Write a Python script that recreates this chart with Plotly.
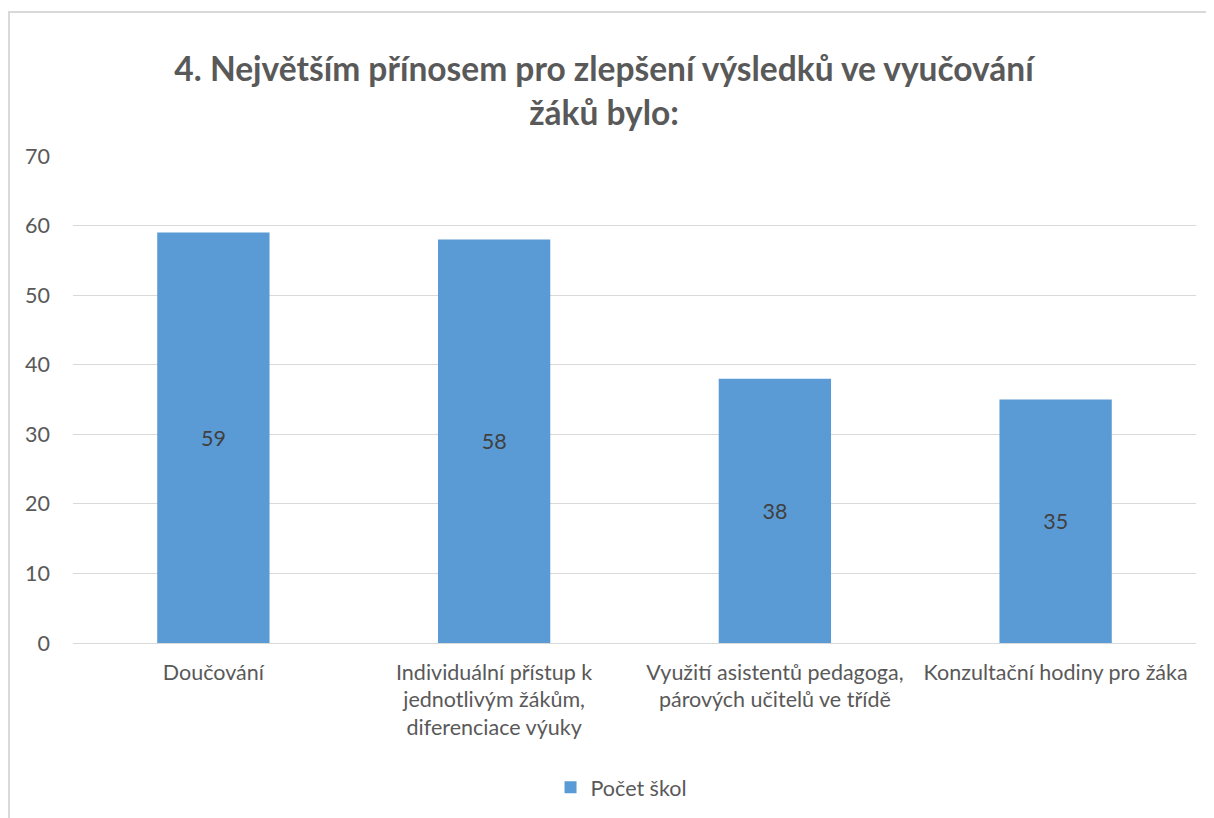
import plotly.graph_objects as go

# data
categories = [
    "Doučování",
    "Individuální přístup k<br>jednotlivým žákům,<br>diferenciace výuky",
    "Využití asistentů pedagoga,<br>párových učitelů ve třídě",
    "Konzultační hodiny pro žáka",
]
pocet_skol = [59, 58, 38, 35]
y_ticks = [0, 10, 20, 30, 40, 50, 60, 70]

TITLE = "4. Největším přínosem pro zlepšení výsledků ve vyučování<br>žáků bylo:"
FONT = "Lato, Carlito, Calibri, sans-serif"
GREY = "#595959"
FS = 21.5

fig = go.Figure()

fig.add_trace(go.Bar(
    x=categories,
    y=pocet_skol,
    name="Počet škol",
    marker=dict(color="#5B9BD5", line=dict(width=0)),
    text=pocet_skol,
    textposition="inside",
    insidetextanchor="middle",
    textfont=dict(family=FONT, size=FS, color="#404040"),
    textangle=0,
))

fig.update_layout(
    width=1214,
    height=818,
    margin=dict(l=65, r=26, t=148, b=183, autoexpand=False),
    paper_bgcolor="white",
    plot_bgcolor="white",
    font=dict(family=FONT, color=GREY, size=FS),
    title=dict(
        text=TITLE,
        xref="container", x=0.491, xanchor="center",
        yref="container", y=1 - 73 / 818, yanchor="middle",
        font=dict(family=FONT, size=33.5, color=GREY, weight="bold"),
    ),
    bargap=0.6,
    showlegend=True,
    legend=dict(
        orientation="h",
        x=0.488, xanchor="center",
        y=-0.296, yanchor="middle",
        font=dict(family=FONT, size=FS, color=GREY),
        itemwidth=30,
    ),
)

fig.update_xaxes(
    showgrid=False,
    showline=False,
    ticks="",
    automargin=False,
    tickfont=dict(family=FONT, size=FS, color=GREY),
    ticklabelstandoff=14,
)

fig.update_yaxes(
    range=[0, 70],
    tickvals=y_ticks,
    showgrid=True,
    gridcolor="#D9D9D9",
    gridwidth=1.3,
    zeroline=True,
    zerolinecolor="#D9D9D9",
    zerolinewidth=1.3,
    showline=False,
    ticks="",
    automargin=False,
    tickfont=dict(family=FONT, size=FS, color=GREY),
    ticklabelstandoff=22,
)

# chart border (Excel chart area), cut off at right and bottom in the picture
fig.add_shape(
    type="rect", xref="paper", yref="paper",
    x0=-0.057, x1=1.05, y0=-0.45, y1=1.2957,
    line=dict(color="#D9D9D9", width=2),
    fillcolor="rgba(0,0,0,0)",
    layer="below",
)

fig.write_html("out.html")
